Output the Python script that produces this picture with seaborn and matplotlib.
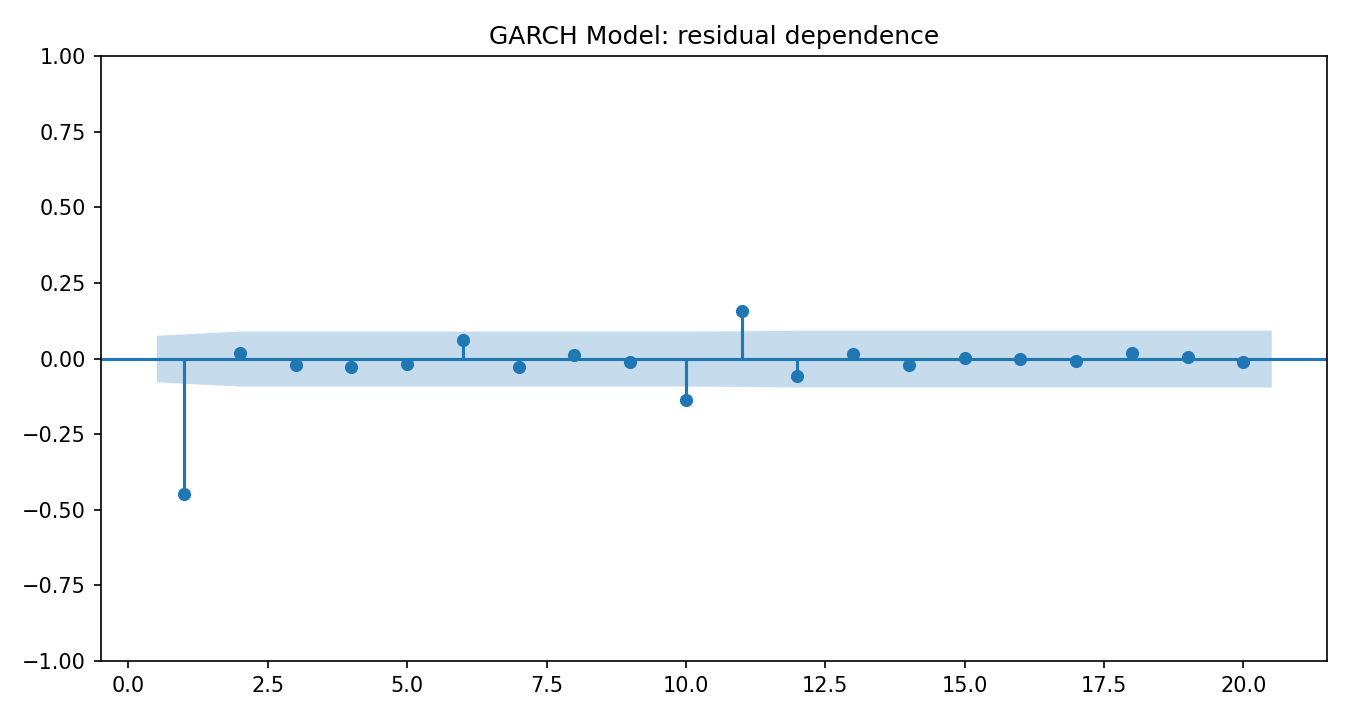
import numpy as np
import matplotlib
matplotlib.use("Agg")
import matplotlib.pyplot as plt
import seaborn as sns

# residual autocorrelations, lags 1..20
lags = [1, 2, 3, 4, 5, 6, 7, 8, 9, 10, 11, 12, 13, 14, 15, 16, 17, 18, 19, 20]
acf_vals = [-0.448, 0.018, -0.021, -0.028, -0.018, 0.061, -0.028, 0.012, -0.012, -0.137,
            0.157, -0.058, 0.015, -0.021, 0.002, -0.002, -0.008, 0.018, 0.005, -0.012]
# half-width of the confidence band at each lag
band = [0.077, 0.091, 0.091, 0.091, 0.091, 0.091, 0.091, 0.091, 0.091, 0.091,
        0.092, 0.094, 0.094, 0.094, 0.094, 0.094, 0.094, 0.094, 0.094, 0.094]

fig, ax = plt.subplots(figsize=(9, 4.8), dpi=150)
fig.subplots_adjust(left=0.0745, right=0.983, top=0.922, bottom=0.082)

blue = sns.color_palette()[0]

# band edges stretched half a lag on each side, like statsmodels does
xb = np.array(lags, dtype=float)
xb[0] -= 0.5
xb[-1] += 0.5
hw = np.array(band)
ax.fill_between(xb, -hw, hw, color=blue, alpha=0.25, linewidth=0)

ax.axhline(0, color=blue, lw=1.5)
ax.vlines(lags, [0], acf_vals, color=blue, lw=1.5)
sns.scatterplot(x=lags, y=acf_vals, ax=ax, color=blue, s=40, linewidth=0, zorder=3)

ax.set_xlim(-0.5, 21.5)
ax.set_ylim(-1, 1)
ax.set_yticks(np.arange(-1, 1.01, 0.25))
ax.set_title("GARCH Model: residual dependence")

fig.savefig("out.png", dpi=150)
